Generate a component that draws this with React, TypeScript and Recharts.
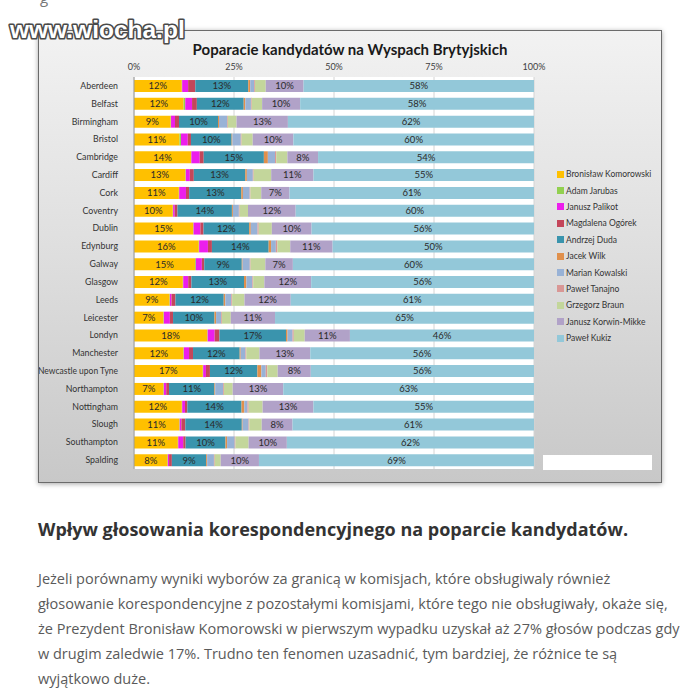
import React from 'react';
import { BarChart, Bar, XAxis, YAxis, CartesianGrid, LabelList } from 'recharts';

const cities = [
  'Aberdeen', 'Belfast', 'Birmingham', 'Bristol', 'Cambridge', 'Cardiff', 'Cork', 'Coventry',
  'Dublin', 'Edynburg', 'Galway', 'Glasgow', 'Leeds', 'Leicester', 'Londyn', 'Manchester',
  'Newcastle upon Tyne', 'Northampton', 'Nottingham', 'Slough', 'Southampton', 'Spalding',
];

// support in % (small ones)
const komorowski = [12.0, 12.4, 9.2, 11.4, 14.3, 12.9, 11.25, 9.75, 14.9, 16.2, 15.3, 12.25, 8.9, 7.4, 18.4, 12.4, 17.25, 7.4, 12.0, 11.4, 11.0, 8.4];
const jarubas = [0.1, 0.4, 0.1, 0.4, 0.1, 0.1, 0.1, 0.1, 0.1, 0.1, 0.2, 0.1, 0.1, 0.1, 0.1, 0.1, 0.1, 0.1, 0.1, 0.1, 0.1, 0.1];
const palikot = [1.5, 1.7, 1.0, 1.7, 2.1, 1.0, 1.7, 0.4, 1.7, 2.2, 1.5, 1.25, 0.4, 1.5, 1.75, 1.3, 0.7, 0.6, 0.7, 0.4, 1.25, 0.3];
const ogorek = [1.8, 1.2, 1.0, 0.8, 1.0, 1.0, 0.8, 0.7, 0.8, 1.0, 0.6, 0.8, 1.0, 0.8, 1.2, 1.0, 1.0, 0.7, 0.6, 1.0, 0.6, 0.7];
const duda = [13.3, 11.7, 9.8, 10.2, 15.1, 12.9, 13.1, 13.7, 11.5, 14.2, 9.4, 13.2, 12.1, 10.4, 16.7, 11.7, 11.9, 11.4, 13.6, 14.2, 10.0, 8.6];
const wilk = [0.5, 0.4, 0.25, 0.2, 1.0, 0.4, 0.4, 0.25, 0.4, 0.6, 0.2, 0.6, 0.4, 0.4, 0.4, 0.25, 1.0, 0.2, 0.7, 0.2, 0.4, 0.25];
const kowalski = [1.0, 1.4, 2.0, 2.1, 1.8, 1.5, 1.7, 1.5, 1.7, 1.2, 1.8, 1.5, 1.5, 1.25, 1.25, 1.2, 1.1, 2.0, 0.8, 1.5, 1.9, 1.7];
const tanajno = [0.2, 0.2, 0.2, 0.2, 0.3, 0.2, 0.2, 0.2, 0.3, 0.4, 0.2, 0.2, 0.2, 0.2, 0.3, 0.2, 0.4, 0.2, 0.3, 0.2, 0.2, 0.2];
const braun = [2.7, 2.6, 2.2, 2.8, 2.8, 4.4, 2.7, 2.1, 3.3, 3.2, 3.7, 2.8, 3.1, 2.25, 2.75, 3.3, 2.6, 2.2, 3.5, 3.1, 3.3, 1.5];
const korwin = [9.5, 9.5, 12.9, 10.2, 7.7, 10.6, 7.1, 12.0, 10.0, 10.6, 6.9, 11.75, 11.6, 11.1, 11.35, 12.75, 8.3, 12.7, 12.75, 7.75, 9.6, 9.6];
const kukiz = [57.9, 58.4, 61.8, 60.4, 54.2, 55.3, 61.4, 60.0, 56.0, 50.4, 60.4, 55.9, 61.0, 65.0, 46.2, 56.1, 56.0, 63.0, 55.4, 60.7, 62.0, 69.0];

const xTicks = [0, 0.25, 0.5, 0.75, 1];

const candidates = [
  { key: 'komorowski', name: 'Bronisław Komorowski', values: komorowski, color: '#FFC000', label: true },
  { key: 'jarubas', name: 'Adam Jarubas', values: jarubas, color: '#92D050', label: false },
  { key: 'palikot', name: 'Janusz Palikot', values: palikot, color: '#EC1EEC', label: false },
  { key: 'ogorek', name: 'Magdalena Ogórek', values: ogorek, color: '#C4465A', label: false },
  { key: 'duda', name: 'Andrzej Duda', values: duda, color: '#3A94AD', label: true },
  { key: 'wilk', name: 'Jacek Wilk', values: wilk, color: '#E0904C', label: false },
  { key: 'kowalski', name: 'Marian Kowalski', values: kowalski, color: '#98B2D6', label: false },
  { key: 'tanajno', name: 'Paweł Tanajno', values: tanajno, color: '#D99795', label: false },
  { key: 'braun', name: 'Grzegorz Braun', values: braun, color: '#C3D69B', label: false },
  { key: 'korwin', name: 'Janusz Korwin-Mikke', values: korwin, color: '#B1A2C8', label: true },
  { key: 'kukiz', name: 'Paweł Kukiz', values: kukiz, color: '#93C8D9', label: true },
];

const data = cities.map((city, i) => {
  const row: Record<string, string | number> = { city };
  candidates.forEach((c) => {
    row[c.key] = c.values[i];
  });
  return row;
});

const pct = (v: any) => `${Math.round(Number(v))}%`;

// plain text tick so long city names stay on one line (Calibri-ish narrow fit)
function CityTick({ x, y, payload }: any) {
  const long = String(payload.value).length > 14;
  return (
    <text
      x={x - 8}
      y={y}
      dy={3}
      textAnchor="end"
      fontSize={8.8}
      fill="#333"
      fontFamily="Lato, sans-serif"
      {...(long ? { textLength: 80, lengthAdjust: 'spacingAndGlyphs' } : {})}
    >
      {payload.value}
    </text>
  );
}

export default function App() {
  return (
    <div
      style={{
        position: 'absolute',
        left: 0,
        top: 0,
        width: 687,
        height: 694,
        background: '#fff',
        overflow: 'hidden',
        fontFamily: '"Open Sans", sans-serif',
      }}
    >
      <div style={{ position: 'absolute', left: 40, top: -13, fontSize: 15, color: '#777' }}>g</div>

      {/* chart picture */}
      <div
        style={{
          position: 'absolute',
          left: 38,
          top: 30,
          width: 622,
          height: 451,
          border: '1px solid #6b6b6b',
          boxShadow: '0 1px 5px rgba(0,0,0,0.35)',
          background: 'linear-gradient(to bottom, #f2f2f2 0%, #dedede 50%, #c8c8c8 100%)',
        }}
      >
        <div
          style={{
            position: 'absolute',
            left: 0,
            top: 9,
            width: 622,
            textAlign: 'center',
            fontFamily: 'Lato, sans-serif',
            fontWeight: 700,
            fontSize: 15,
            color: '#1a1a1a',
          }}
        >
          Poparacie kandydatów na Wyspach Brytyjskich
        </div>

        <div style={{ position: 'absolute', left: 0, top: 0 }}>
          <BarChart
            width={622}
            height={451}
            data={data}
            layout="vertical"
            stackOffset="expand"
            barCategoryGap="17%"
            margin={{ top: 0, right: 127, bottom: 13, left: 0 }}
          >
            <CartesianGrid horizontal={false} stroke="#d4d4d4" fill="#ffffff" />
            <XAxis
              type="number"
              orientation="top"
              height={46}
              domain={[0, 1]}
              ticks={xTicks}
              tickFormatter={(v) => `${Math.round(v * 100)}%`}
              axisLine={false}
              tickLine={false}
              tickSize={4}
              tickMargin={3}
              tick={{ fontSize: 9, fill: '#404040', fontFamily: 'Lato, sans-serif' }}
            />
            <YAxis
              type="category"
              dataKey="city"
              width={95}
              interval={0}
              axisLine={{ stroke: '#9a9a9a' }}
              tickLine={false}
              tick={<CityTick />}
            />
            {candidates.map((c) => (
              <Bar key={c.key} dataKey={c.key} stackId="a" fill={c.color} isAnimationActive={false}>
                {c.label && (
                  <LabelList
                    dataKey={c.key}
                    position="center"
                    formatter={pct}
                    style={{ fontSize: 9.5, fill: '#2a2a2a', fontFamily: 'Lato, sans-serif' }}
                  />
                )}
              </Bar>
            ))}
          </BarChart>
        </div>

        {/* legend */}
        <div style={{ position: 'absolute', left: 518, top: 135, fontFamily: 'Lato, sans-serif', fontSize: 8.5, color: '#333' }}>
          {candidates.map((c) => (
            <div key={c.key} style={{ height: 16.4, display: 'flex', alignItems: 'center', whiteSpace: 'nowrap' }}>
              <span style={{ width: 7, height: 7, background: c.color, display: 'inline-block', marginRight: 2 }} />
              {c.name}
            </div>
          ))}
        </div>

        <div style={{ position: 'absolute', left: 504, top: 424, width: 109, height: 15, background: '#fff' }} />
      </div>

      {/* watermark */}
      <svg style={{ position: 'absolute', left: 0, top: 0 }} width={210} height={50}>
        <text
          x={10}
          y={38}
          fontFamily='"Liberation Sans", Arial, sans-serif'
          fontWeight={700}
          fontSize={24.5}
          fill="#ffffff"
          stroke="#4a4a4a"
          strokeWidth={3.2}
          strokeLinejoin="round"
          style={{ paintOrder: 'stroke' }}
        >
          www.wiocha.pl
        </text>
      </svg>

      <div
        style={{
          position: 'absolute',
          left: 38,
          top: 517,
          fontWeight: 700,
          fontSize: 18,
          color: '#333',
          whiteSpace: 'nowrap',
        }}
      >
        Wpływ głosowania korespondencyjnego na poparcie kandydatów.
      </div>

      <div
        style={{
          position: 'absolute',
          left: 38,
          top: 566,
          fontSize: 14.5,
          lineHeight: '25px',
          color: '#5a5a5a',
          whiteSpace: 'nowrap',
        }}
      >
        <div>Jeżeli porównamy wyniki wyborów za granicą w komisjach, które obsługiwaly również</div>
        <div>głosowanie korespondencyjne z pozostałymi komisjami, które tego nie obsługiwały, okaże się,</div>
        <div>że Prezydent Bronisław Komorowski w pierwszym wypadku uzyskał aż 27% głosów podczas gdy</div>
        <div>w drugim zaledwie 17%. Trudno ten fenomen uzasadnić, tym bardziej, że różnice te są</div>
        <div>wyjątkowo duże.</div>
      </div>
    </div>
  );
}
